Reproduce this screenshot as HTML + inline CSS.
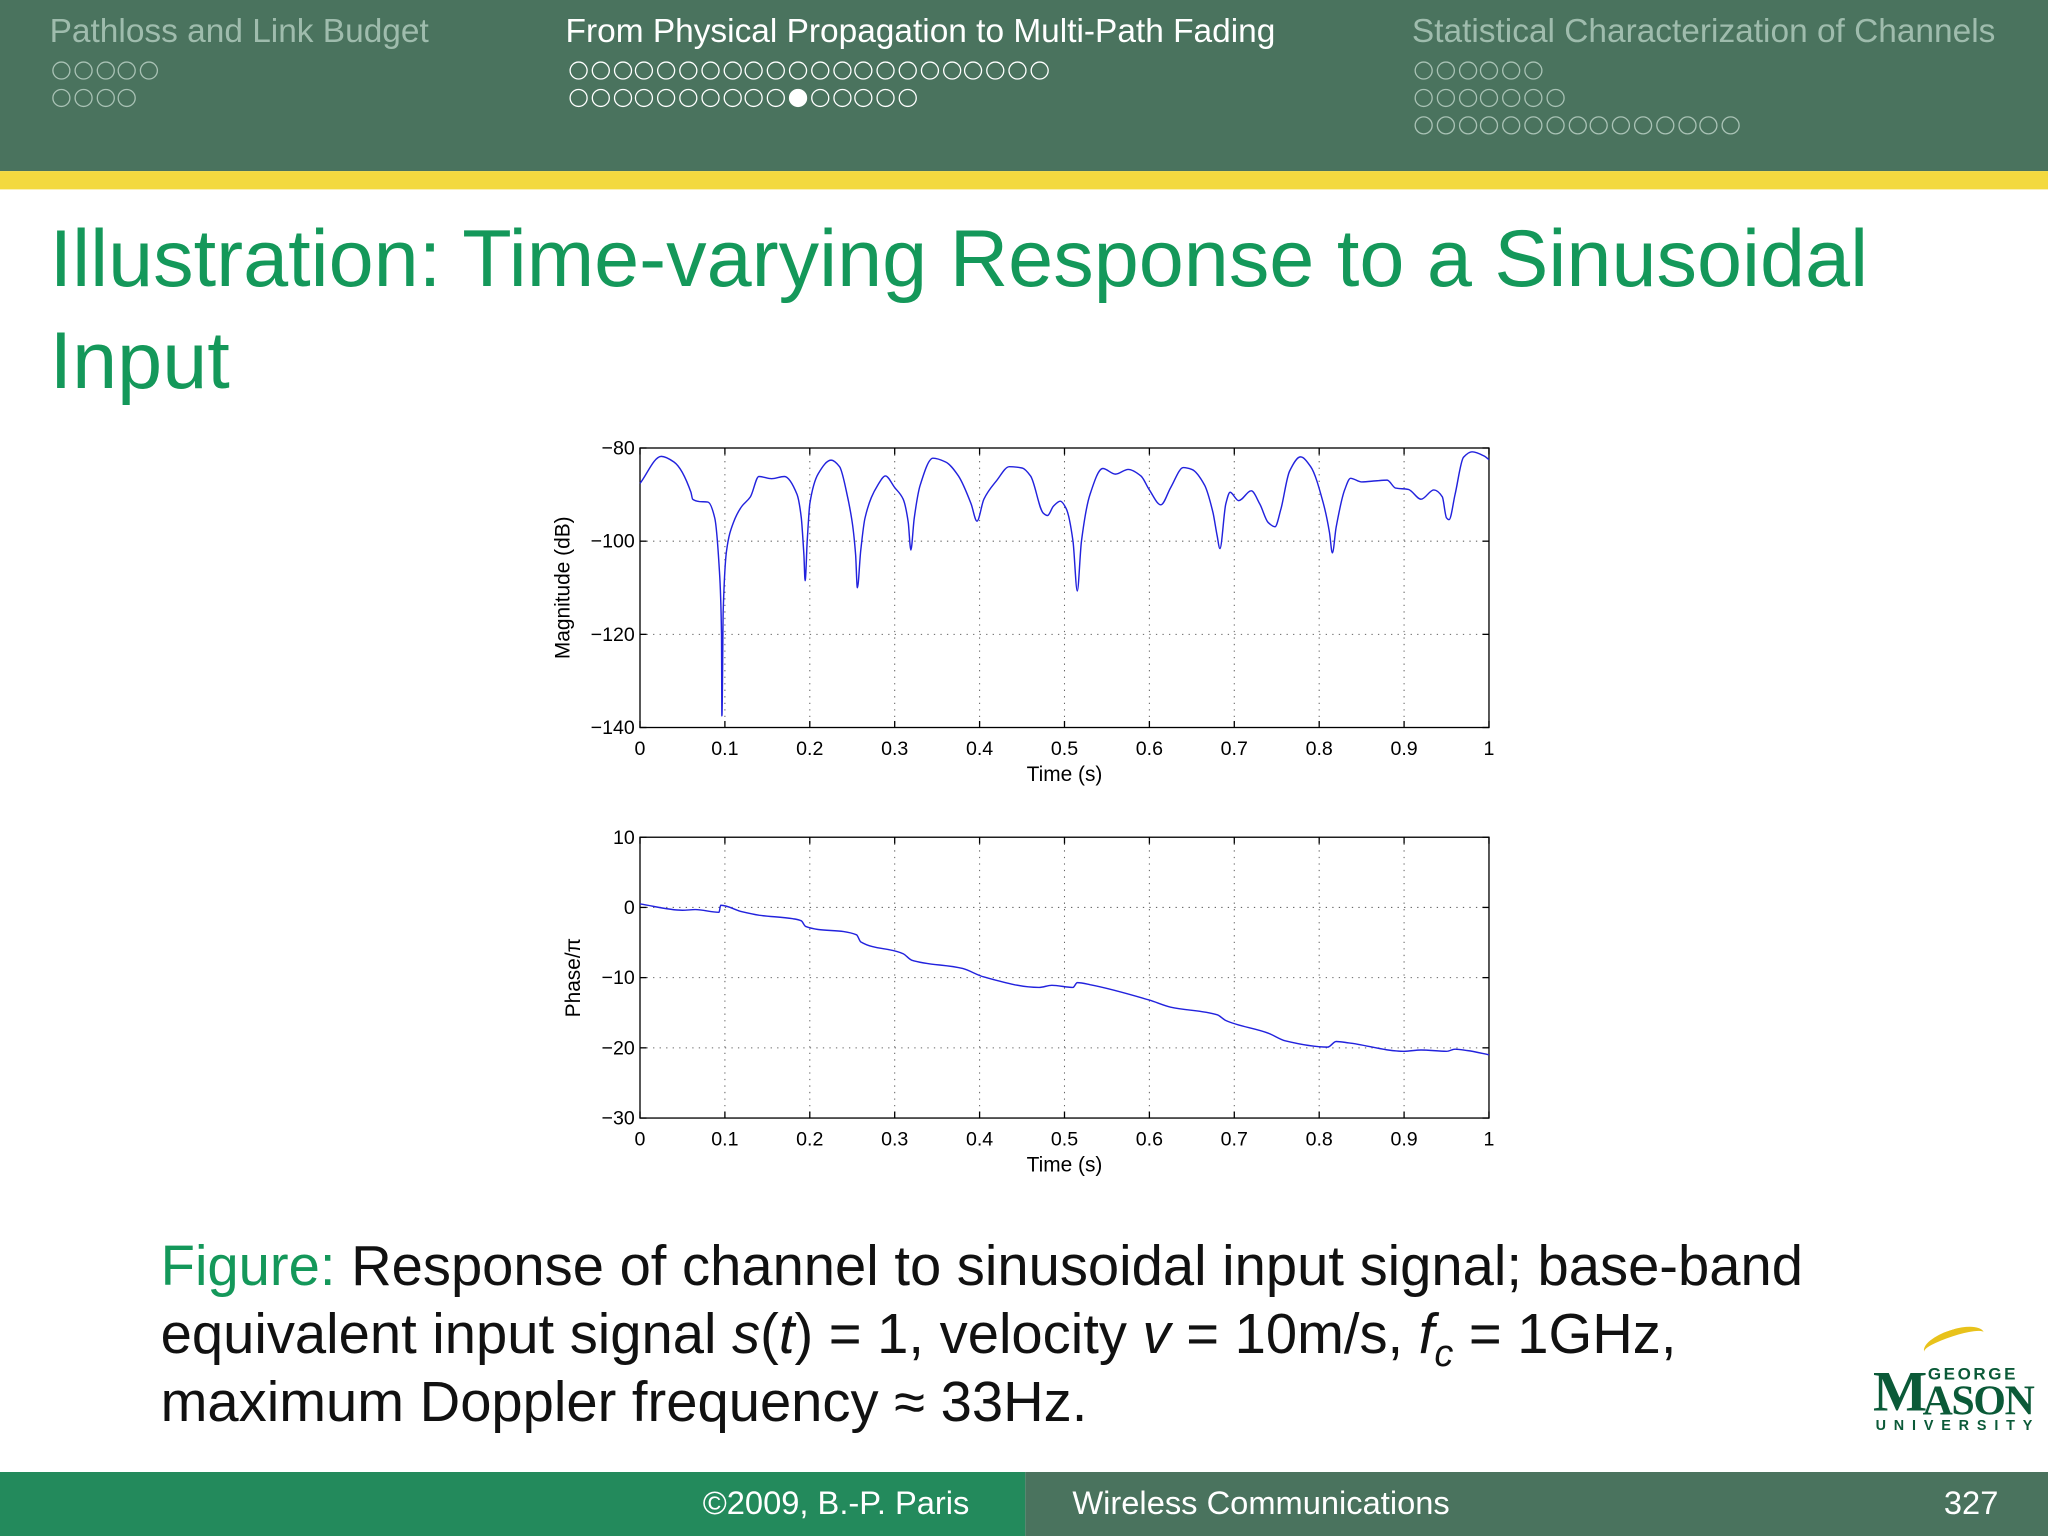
<!DOCTYPE html>
<html><head><meta charset="utf-8">
<style>
html,body{margin:0;padding:0;background:#fff;overflow:hidden;width:2048px;height:1536px}
#slide{position:absolute;left:0;top:0;width:1568px;height:1176px;transform:scale(1.306122);transform-origin:0 0;font-family:"Liberation Sans",sans-serif;background:#fff}
.hdr{position:absolute;left:0;top:0;width:1568px;height:131px;background:#4a735e}
.stripe{position:absolute;left:0;top:131px;width:1568px;height:14px;background:#f3d93f}
.sec{position:absolute;top:10px;font-size:25.6px;color:#9fbcad;white-space:nowrap}
.sec.active{color:#fff}
.row{position:absolute;height:14px;white-space:nowrap;font-size:0}
.d{display:inline-block;width:14px;height:14px;border:1.5px solid #a9c2b5;border-radius:50%;margin-right:2.8px;box-sizing:border-box}
.active .d{border-color:#fff}
.d.f{background:#fff}
.title{position:absolute;left:38px;top:160px;font-size:62px;color:#14985a;line-height:78px}
.cap{position:absolute;left:123px;top:944px;font-size:43px;line-height:52px;color:#111;white-space:nowrap}
.cap sub{font-size:29px;vertical-align:0;position:relative;top:10px;line-height:0}
.foot{position:absolute;top:1127px;height:49px;font-size:25px;color:#fff;line-height:49px}
</style></head><body>
<div id="slide">
<div class="hdr">
 <div class="sec" style="left:38px">Pathloss and Link Budget</div>
 <div class="sec active" style="left:433px">From Physical Propagation to Multi-Path Fading</div>
 <div class="sec" style="left:1081px">Statistical Characterization of Channels</div>
 <div id="dots"></div>
</div>
<div class="stripe"></div>
<div class="title">Illustration: Time-varying Response to a Sinusoidal<br>Input</div>

<svg id="chart" width="1568" height="1176" style="position:absolute;left:0;top:0"></svg>

<div class="cap"><span style="color:#14985a">Figure:</span> Response of channel to sinusoidal input signal; base-band<br>equivalent input signal <i>s</i>(<i>t</i>) = 1, velocity <i>v</i> = 10m/s, <i>f<sub>c</sub></i> = 1GHz,<br>maximum Doppler frequency ≈ 33Hz.</div>

<div style="position:absolute;left:1432px;top:1018px;width:126px;height:82px;color:#0b5a38;font-family:'Liberation Serif',serif">
 <div style="position:absolute;left:40px;top:0;width:48px;height:14px;border-top:5px solid #e8c21b;border-radius:50% 50% 0 0;transform:rotate(-18deg)"></div>
 <div style="position:absolute;left:2px;top:22px;font-size:44px;font-weight:bold;letter-spacing:-2px">M</div>
 <div style="position:absolute;left:44px;top:26px;font-size:13px;font-weight:bold;letter-spacing:2px;font-family:'Liberation Sans',sans-serif">GEORGE</div>
 <div style="position:absolute;left:40px;top:36px;font-size:32px;font-weight:bold;letter-spacing:-1px">ASON</div>
 <div style="position:absolute;left:4px;top:68px;font-size:11px;font-weight:bold;letter-spacing:6px;font-family:'Liberation Sans',sans-serif">UNIVERSITY</div>
</div>

<div class="foot" style="left:0;width:785px;background:#238a5c"><span style="position:absolute;left:538px">©2009, B.-P. Paris</span></div>
<div class="foot" style="left:785px;width:783px;background:#4a735e"><span style="position:absolute;left:36px">Wireless Communications</span><span style="position:absolute;right:38px">327</span></div>
</div>

<script>
// nav dots
const dotRows=[[40,47,5,-1,false],[40,68,4,-1,false],[436,47,22,-1,true],[436,68,16,10,true],[1083,47,6,-1,false],[1083,68,7,-1,false],[1083,89,15,-1,false]];
const dc=document.getElementById('dots');
dotRows.forEach(r=>{
 const row=document.createElement('div');
 row.className='row'+(r[4]?' active':'');
 row.style.left=r[0]+'px';row.style.top=r[1]+'px';
 
 
 for(let i=0;i<r[2];i++){const s=document.createElement('span');s.className='d'+(i===r[3]?' f':'');
  
  
  row.appendChild(s);}
 dc.appendChild(row);
});

// chart data
const xTicks=[0,0.1,0.2,0.3,0.4,0.5,0.6,0.7,0.8,0.9,1];
const xTickLabels=['0','0.1','0.2','0.3','0.4','0.5','0.6','0.7','0.8','0.9','1'];
const magTicks=[-80,-100,-120,-140];
const phaseTicks=[10,0,-10,-20,-30];
const magT=[0,0.025,0.04,0.06,0.062,0.07,0.08,0.088,0.093,0.096,0.0965,0.098,0.102,0.11,0.12,0.13,0.14,0.155,0.17,0.185,0.19,0.193,0.1945,0.197,0.2,0.21,0.225,0.235,0.245,0.25,0.254,0.256,0.26,0.265,0.28,0.289,0.3,0.31,0.316,0.319,0.323,0.33,0.345,0.36,0.375,0.39,0.397,0.405,0.42,0.435,0.45,0.46,0.475,0.48,0.487,0.495,0.502,0.51,0.515,0.52,0.53,0.545,0.56,0.575,0.59,0.6,0.6135,0.625,0.64,0.65,0.665,0.675,0.68,0.683,0.69,0.695,0.705,0.72,0.73,0.74,0.748,0.755,0.765,0.778,0.79,0.805,0.812,0.8155,0.82,0.83,0.837,0.85,0.87,0.88,0.89,0.905,0.92,0.935,0.945,0.95,0.953,0.96,0.97,0.98,0.995,1.0];
const magDb=[-87.6,-81.8,-83,-89.5,-91,-91.5,-91.6,-95,-105,-120,-137.5,-115,-102,-96,-92.5,-90.5,-86.1,-86.6,-86.1,-90,-95,-103,-108.5,-100,-92,-85.5,-82.6,-84,-91,-96,-103,-110,-102,-95,-88,-86,-88.5,-91,-96,-101.9,-95,-88,-82.2,-83,-86,-92,-95.7,-91,-87,-84,-84.3,-86,-94,-94.5,-92.5,-91.4,-93,-100,-110.7,-100,-90,-84.4,-85.6,-84.6,-86,-89,-92.2,-88.5,-84.2,-84.6,-88,-94,-99,-101.6,-92,-89.5,-91.3,-89.2,-92,-96,-96.9,-93,-85,-81.9,-84,-92,-98,-102.5,-97,-89,-86.5,-87.3,-87,-86.9,-88.6,-88.9,-91,-89,-90.5,-95,-95.4,-90,-82,-80.8,-81.8,-82.5];
const phT=[0,0.05,0.065,0.093,0.095,0.12,0.14,0.18,0.19,0.195,0.255,0.26,0.31,0.32,0.38,0.405,0.47,0.485,0.51,0.515,0.53,0.6,0.625,0.68,0.69,0.74,0.76,0.81,0.82,0.835,0.9,0.92,0.95,0.96,0.975,1.0];
const phV=[0.5,-0.4,-0.3,-0.7,0.3,-0.6,-1.1,-1.6,-1.9,-2.7,-3.9,-4.9,-6.6,-7.5,-8.7,-9.9,-11.4,-11.1,-11.4,-10.7,-11.0,-13.2,-14.2,-15.3,-16.1,-17.9,-19.0,-19.9,-19.1,-19.3,-20.5,-20.3,-20.5,-20.2,-20.4,-21];

const svg=document.getElementById('chart');const NS='http://www.w3.org/2000/svg';
function el(tag,attrs,parent){const e=document.createElementNS(NS,tag);for(const k in attrs)e.setAttribute(k,attrs[k]);(parent||svg).appendChild(e);return e;}
function smoothPath(P){
 // monotone-x cubic (Fritsch-Carlson) to avoid overshoot
 const n=P.length;if(n<2)return '';
 const dx=[],m=[],s=[];
 for(let i=0;i<n-1;i++){dx[i]=P[i+1][0]-P[i][0];s[i]=(P[i+1][1]-P[i][1])/dx[i];}
 m[0]=s[0];m[n-1]=s[n-2];
 for(let i=1;i<n-1;i++){m[i]=(s[i-1]*s[i]<=0)?0:3*(dx[i-1]+dx[i])/((2*dx[i]+dx[i-1])/s[i-1]+(dx[i]+2*dx[i-1])/s[i]);}
 let d='M'+P[0][0].toFixed(1)+' '+P[0][1].toFixed(1);
 for(let i=0;i<n-1;i++){const h=dx[i]/3;
  d+=' C'+(P[i][0]+h).toFixed(1)+' '+(P[i][1]+m[i]*h).toFixed(1)+' '+(P[i+1][0]-h).toFixed(1)+' '+(P[i+1][1]-m[i+1]*h).toFixed(1)+' '+P[i+1][0].toFixed(1)+' '+P[i+1][1].toFixed(1);}
 return d;
}
function panel(name,top,bottom,ymin,ymax,yTicks,ts,vs,ylabel){
 const L=490,R=1140;
 const g=el('g',{});
 
 
 const xs=t=>L+(R-L)*t, ys=v=>bottom-(bottom-top)*(v-ymin)/(ymax-ymin);
 xTicks.forEach((t,i)=>{
  const x=xs(t);
  if(i>0&&i<xTicks.length-1){const gl=el('line',{x1:x,x2:x,y1:top,y2:bottom,stroke:'#666','stroke-width':0.8,'stroke-dasharray':'1 4'},g);
   
   }
  el('line',{x1:x,x2:x,y1:bottom,y2:bottom-5,stroke:'#000'},g);
  el('line',{x1:x,x2:x,y1:top,y2:top+5,stroke:'#000'},g);
  const tx=el('text',{x:x,y:bottom+21,'text-anchor':'middle','font-size':15,fill:'#000','font-family':'Liberation Sans,sans-serif'},g);tx.textContent=xTickLabels[i];
  
  
 });
 yTicks.forEach(v=>{
  const y=ys(v);
  if(v!==ymin&&v!==ymax){const gl=el('line',{x1:L,x2:R,y1:y,y2:y,stroke:'#666','stroke-width':0.8,'stroke-dasharray':'1 4'},g);
   
   }
  el('line',{x1:L,x2:L+5,y1:y,y2:y,stroke:'#000'},g);
  el('line',{x1:R,x2:R-5,y1:y,y2:y,stroke:'#000'},g);
  const tx=el('text',{x:L-4,y:y+5,'text-anchor':'end','font-size':15,fill:'#000','font-family':'Liberation Sans,sans-serif'},g);tx.textContent=(v<0?'\u2212'+(-v):v);
  
  
 });
 el('rect',{x:L,y:top,width:R-L,height:bottom-top,fill:'none',stroke:'#000','stroke-width':1},g);
 const pts=ts.map((t,i)=>[xs(t),ys(vs[i])]);
 const p=el('path',{d:smoothPath(pts),fill:'none',stroke:'#2222dd','stroke-width':1.1},g);
 
 
 const xl=el('text',{x:(L+R)/2,y:bottom+41,'text-anchor':'middle','font-size':16,fill:'#000','font-family':'Liberation Sans,sans-serif'},g);xl.textContent='Time (s)';
 
 
 const yc=(top+bottom)/2;
 const yl=el('text',{x:0,y:0,'text-anchor':'middle','font-size':16,fill:'#000','font-family':'Liberation Sans,sans-serif',transform:`translate(${ylabel[1]},${yc}) rotate(-90)`},g);yl.textContent=ylabel[0];
 
 
}
panel('magnitude-plot',343,557,-140,-80,magTicks,magT,magDb,['Magnitude (dB)',436]);
panel('phase-plot',641,856,-30,10,phaseTicks,phT,phV,['Phase/\u03c0',444]);
</script>
</body></html>
